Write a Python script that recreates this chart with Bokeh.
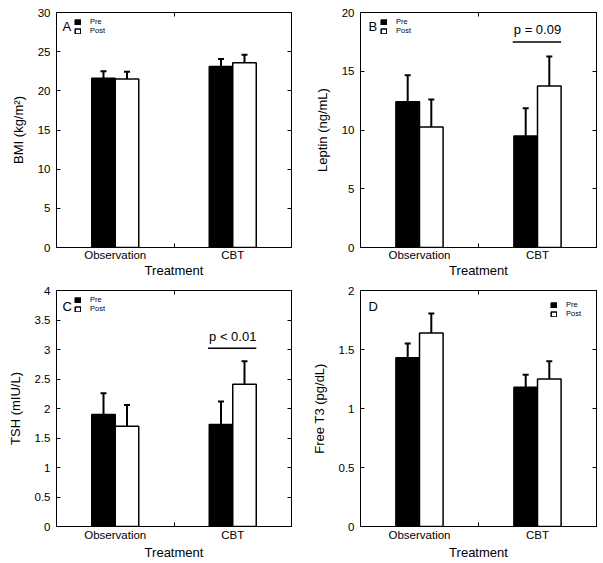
from bokeh.plotting import figure
from bokeh.models import (FixedTicker, LinearAxis, Range1d, ColumnDataSource,
                          Whisker, TeeHead, Legend, LegendItem, Label)
from bokeh.layouts import column, row
from bokeh.embed import file_html
from bokeh.resources import INLINE

# ---------------- data ----------------
categories = ["Observation", "CBT"]
cat_x = [1, 2]
mid_tick = [1.5]
series_names = ["Pre", "Post"]

bmi_pre = [21.6, 23.1]
bmi_pre_sem = [0.9, 0.95]
bmi_post = [21.5, 23.6]
bmi_post_sem = [0.95, 1.0]
bmi_ticks = [0, 5, 10, 15, 20, 25, 30]

leptin_pre = [12.4, 9.5]
leptin_pre_sem = [2.25, 2.35]
leptin_post = [10.25, 13.75]
leptin_post_sem = [2.35, 2.5]
leptin_ticks = [0, 5, 10, 15, 20]
leptin_sig_text = "p = 0.09"
leptin_sig_y = 17.5

tsh_pre = [1.90, 1.73]
tsh_pre_sem = [0.36, 0.39]
tsh_post = [1.70, 2.41]
tsh_post_sem = [0.36, 0.39]
tsh_ticks = [0, 0.5, 1, 1.5, 2, 2.5, 3, 3.5, 4]
tsh_sig_text = "p < 0.01"
tsh_sig_y = 3.02

ft3_pre = [1.43, 1.18]
ft3_pre_sem = [0.12, 0.105]
ft3_post = [1.64, 1.25]
ft3_post_sem = [0.165, 0.15]
ft3_ticks = [0, 0.5, 1, 1.5, 2]

FONT = "Liberation Sans"


def fmt(t):
    return f"{t:g}"


def make_panel(letter, ylabel, yticks, pre, pre_sem, post, post_sem,
               width, height, borders, legend_loc, letter_xy,
               xstand=(3, 2), sig_text=None, sig_y=None):
    bt, br, bb, bl = borders
    p = figure(width=width, height=height, output_backend="svg",
               toolbar_location=None, x_range=Range1d(0.5, 2.5),
               y_range=Range1d(yticks[0], yticks[-1]),
               min_border_top=bt, min_border_right=br,
               min_border_bottom=bb, min_border_left=bl)
    p.background_fill_color = "white"
    p.border_fill_color = "white"
    p.outline_line_color = "black"
    p.outline_line_width = 1
    p.xgrid.visible = False
    p.ygrid.visible = False

    bw = 0.2
    src_pre = ColumnDataSource(dict(
        x=[c - bw / 2 for c in cat_x], top=pre,
        upper=[m + s for m, s in zip(pre, pre_sem)]))
    src_post = ColumnDataSource(dict(
        x=[c + bw / 2 for c in cat_x], top=post,
        upper=[m + s for m, s in zip(post, post_sem)]))

    r_pre = p.vbar(x="x", top="top", bottom=0, width=bw, source=src_pre,
                   fill_color="black", line_color="black", line_width=1.5)
    r_post = p.vbar(x="x", top="top", bottom=0, width=bw, source=src_post,
                    fill_color="white", line_color="black", line_width=1.5)

    for src in (src_pre, src_post):
        w = Whisker(source=src, base="x", upper="upper", lower="top",
                    dimension="height", line_color="black", line_width=2,
                    upper_head=TeeHead(size=6, line_color="black", line_width=2),
                    lower_head=None, level="overlay")
        p.add_layout(w)

    # bottom axis
    xa = p.xaxis[0]
    xa.ticker = FixedTicker(ticks=cat_x, minor_ticks=mid_tick)
    xa.major_label_overrides = {c: n for c, n in zip(cat_x, categories)}
    xa.major_tick_in = 0
    xa.major_tick_out = 0
    xa.minor_tick_in = 4
    xa.minor_tick_out = 0
    xa.minor_tick_line_color = "black"
    xa.axis_line_color = "black"
    xa.major_label_text_font = FONT
    xa.major_label_text_font_size = "11.5px"
    xa.major_label_text_color = "black"
    xa.major_label_text_line_height = 1.0
    xa.major_label_standoff = xstand[0]
    xa.axis_label = "Treatment"
    xa.axis_label_text_font = FONT
    xa.axis_label_text_font_size = "13px"
    xa.axis_label_text_font_style = "normal"
    xa.axis_label_text_color = "black"
    xa.axis_label_text_line_height = 1.0
    xa.axis_label_standoff = xstand[1]

    # left axis
    ya = p.yaxis[0]
    ya.ticker = FixedTicker(ticks=yticks)
    ya.major_label_overrides = {t: fmt(t) for t in yticks}
    ya.major_tick_in = 4
    ya.major_tick_out = 0
    ya.minor_tick_line_color = None
    ya.major_tick_line_color = "black"
    ya.axis_line_color = "black"
    ya.major_label_text_font = FONT
    ya.major_label_text_font_size = "11.5px"
    ya.major_label_text_color = "black"
    ya.major_label_standoff = 6
    ya.axis_label = ylabel
    ya.axis_label_text_font = FONT
    ya.axis_label_text_font_size = "13px"
    ya.axis_label_text_font_style = "normal"
    ya.axis_label_text_color = "black"
    ya.axis_label_standoff = 9

    # right axis (ticks only)
    ra = LinearAxis(ticker=FixedTicker(ticks=yticks), major_tick_in=4,
                    major_tick_out=0, minor_tick_line_color=None,
                    major_label_text_font_size="0px", major_label_standoff=0,
                    axis_line_color="black", major_tick_line_color="black")
    p.add_layout(ra, "right")
    # top axis (single middle tick)
    ta = LinearAxis(ticker=FixedTicker(ticks=mid_tick), major_tick_in=4,
                    major_tick_out=0, minor_tick_line_color=None,
                    major_label_text_font_size="0px", major_label_standoff=0,
                    axis_line_color="black", major_tick_line_color="black")
    p.add_layout(ta, "above")

    legend = Legend(items=[LegendItem(label=series_names[0], renderers=[r_pre]),
                           LegendItem(label=series_names[1], renderers=[r_post])],
                    location=legend_loc, orientation="vertical",
                    glyph_width=7, glyph_height=6, label_height=8,
                    label_standoff=9, spacing=-1, padding=0, margin=0,
                    label_text_font=FONT, label_text_font_size="7.5px",
                    label_text_color="black", border_line_color=None,
                    background_fill_alpha=0)
    p.add_layout(legend)

    p.add_layout(Label(x=letter_xy[0], y=letter_xy[1], x_units="screen",
                       y_units="screen", text=letter, text_font=FONT,
                       text_font_size="13px", text_baseline="middle",
                       text_color="black"))

    if sig_text is not None:
        cx = cat_x[1]
        p.segment(x0=[cx - bw - 0.01], x1=[cx + bw], y0=[sig_y], y1=[sig_y],
                  line_color="black", line_width=1.5)
        p.add_layout(Label(x=cx, y=sig_y, text=sig_text, text_font=FONT,
                           text_font_size="13px", text_align="center",
                           text_baseline="alphabetic", y_offset=12,
                           text_color="black"))
    return p


pA = make_panel("A", "BMI (kg/m²)", bmi_ticks, bmi_pre, bmi_pre_sem,
                bmi_post, bmi_post_sem, 297, 280, (12, 6, 33, 56),
                (18, 212), (6, 221), (1, -1))
pB = make_panel("B", "Leptin (ng/mL)", leptin_ticks, leptin_pre, leptin_pre_sem,
                leptin_post, leptin_post_sem, 306, 280, (12, 7, 33, 63),
                (20, 212), (8, 221), (1, -1), leptin_sig_text, leptin_sig_y)
pC = make_panel("C", "TSH (mIU/L)", tsh_ticks, tsh_pre, tsh_pre_sem,
                tsh_post, tsh_post_sem, 297, 283, (10, 6, 37, 56),
                (18, 213), (6, 220.5), (2, 1), tsh_sig_text, tsh_sig_y)
pD = make_panel("D", "Free T3 (pg/dL)", ft3_ticks, ft3_pre, ft3_pre_sem,
                ft3_post, ft3_post_sem, 306, 283, (10, 7, 37, 63),
                (190, 208), (8, 220.5), (2, 1))

layout = column(row(pA, pB), row(pC, pD))
open("out.html", "w").write(file_html(layout, INLINE))
